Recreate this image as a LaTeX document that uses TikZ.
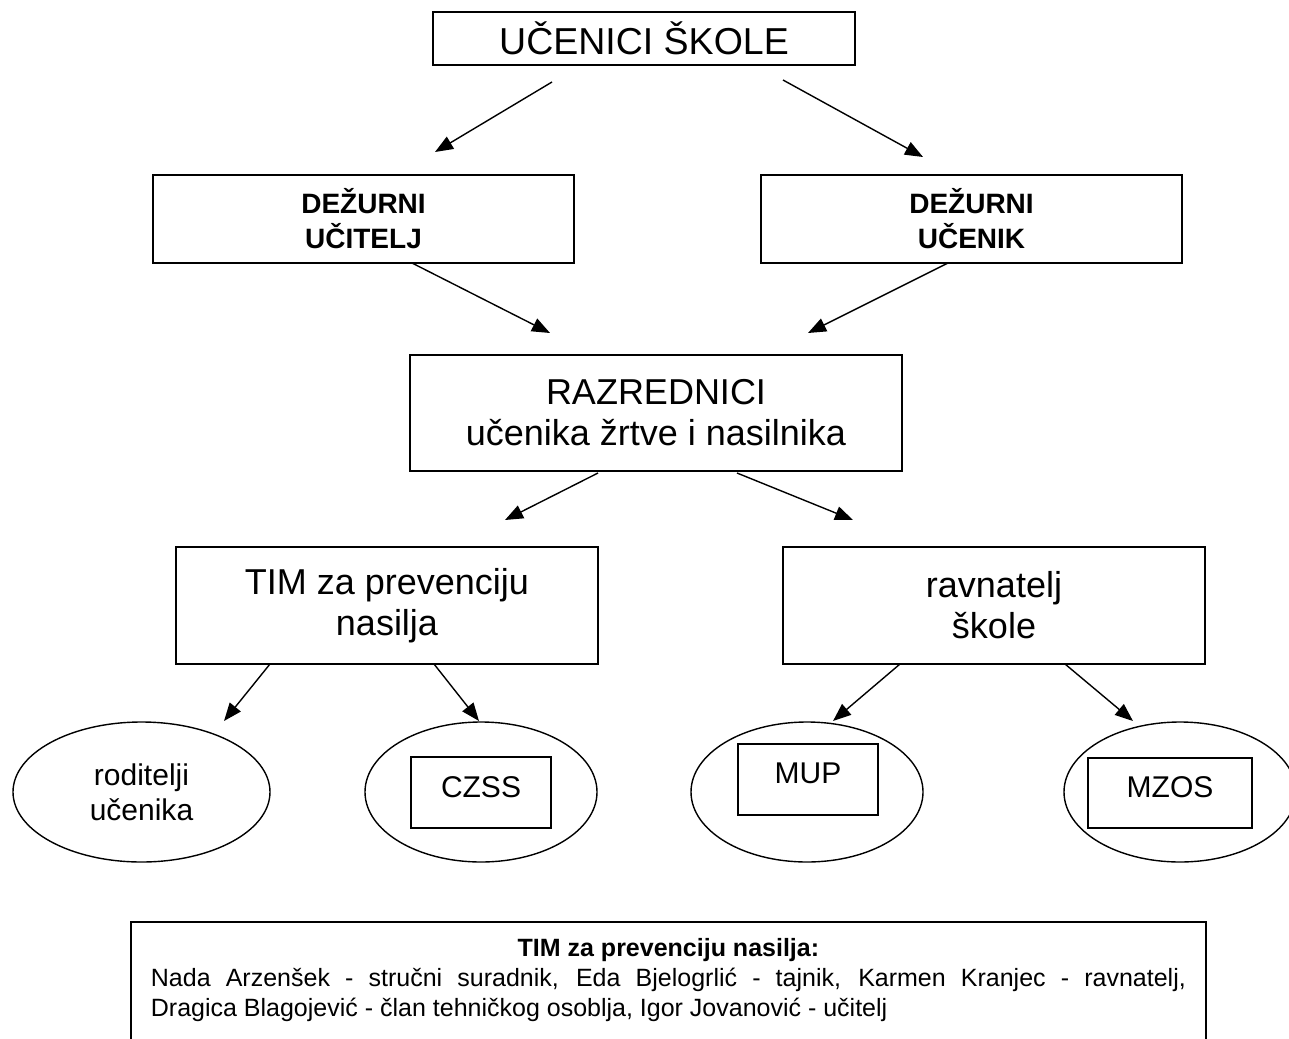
\documentclass[tikz,border=0pt]{standalone}
\usepackage{fontspec}
\setmainfont{Liberation Sans}
\usetikzlibrary{arrows.meta,shapes.geometric}
\begin{document}
\begin{tikzpicture}[x=1pt,y=-1pt,
  box/.style={draw, line width=1.8pt, inner sep=0pt, align=center},
  big/.style={font=\fontsize{36}{41}\selectfont},
  boldtxt/.style={font=\fontsize{28}{35}\selectfont\bfseries},
  mid/.style={font=\fontsize{30}{35}\selectfont},
  oval/.style={draw, ellipse, line width=1.4pt, inner sep=0pt, minimum width=232pt, minimum height=140pt},
  inbox/.style={draw, line width=1.8pt, inner sep=0pt, font=\fontsize{30}{35}\selectfont},
  arr/.style={line width=1.4pt, -{Triangle[length=18pt,width=14pt]}},
]
\useasboundingbox (0,0) rectangle (1289,1038);

% main boxes
\node[box,font=\fontsize{37.5}{41}\selectfont,minimum width=422pt,minimum height=53pt] (top) at (644,38.5) {UČENICI ŠKOLE};
\node[box,boldtxt,minimum width=421pt,minimum height=88pt] (dt) at (363.5,219) {DEŽURNI\\UČITELJ};
\node[box,boldtxt,minimum width=421pt,minimum height=88pt] (ds) at (971.5,219) {DEŽURNI\\UČENIK};
\node[box,big,minimum width=492pt,minimum height=116pt] (raz) at (656,413) {RAZREDNICI\\učenika žrtve i nasilnika};
\node[box,big,minimum width=422pt,minimum height=117pt] (tim) at (387,605.5) {TIM za prevenciju\\nasilja};
\node[box,big,minimum width=422pt,minimum height=117pt] (rav) at (994,605.5) {ravnatelj\\škole};

% ellipses
\node[oval,mid,minimum width=257pt,align=center] (rod) at (141.5,792) {roditelji\\učenika};
\node[oval] (eczss) at (481,792) {};
\node[oval] (emup) at (807,792) {};
\node[oval] (emzos) at (1180,792) {};

% inner boxes
\node[inbox,minimum width=140pt,text height=40pt,text depth=31pt] (czss) at (481,792.5) {CZSS};
\node[inbox,minimum width=140pt,text height=39pt,text depth=32pt] (mup) at (808,779.5) {MUP};
\node[inbox,minimum width=164pt,text height=39pt,text depth=31pt] (mzos) at (1170,793) {MZOS};

% team box (continues below the picture's lower edge)
\node[draw,line width=1.8pt,anchor=north west,text width=1035pt,inner xsep=20pt,inner ysep=16pt,
      align=justify,font=\fontsize{25}{30}\selectfont] (team) at (130,921)
 {\hyphenpenalty=10000 {\centering\bfseries TIM za prevenciju nasilja:\par}Nada Arzenšek - stručni suradnik, Eda Bjelogrlić - tajnik, Karmen Kranjec - ravnatelj,\linebreak Dragica Blagojević - član tehničkog osoblja, Igor Jovanović - učitelj\par\noindent\rule{0pt}{40pt}};

% arrow end points
\coordinate (a1s) at (552,82);   \coordinate (a1e) at (435,152);
\coordinate (a2s) at (783,80);   \coordinate (a2e) at (923,157);
\coordinate (a3s) at (412,263);  \coordinate (a3e) at (550,333);
\coordinate (a4s) at (948,263);  \coordinate (a4e) at (808,333);
\coordinate (a5s) at (598,473);  \coordinate (a5e) at (505,520);
\coordinate (a6s) at (737,473);  \coordinate (a6e) at (853,520);
\coordinate (a7s) at (270,664);  \coordinate (a7e) at (224,721);
\coordinate (a8s) at (434,664);  \coordinate (a8e) at (479,721);
\coordinate (a9s) at (900,664);  \coordinate (a9e) at (833,721);
\coordinate (a10s) at (1065,664); \coordinate (a10e) at (1133,721);

\draw[arr] (a1s) -- (a1e);
\draw[arr] (a2s) -- (a2e);
\draw[arr] (a3s) -- (a3e);
\draw[arr] (a4s) -- (a4e);
\draw[arr] (a5s) -- (a5e);
\draw[arr] (a6s) -- (a6e);
\draw[arr] (a7s) -- (a7e);
\draw[arr] (a8s) -- (a8e);
\draw[arr] (a9s) -- (a9e);
\draw[arr] (a10s) -- (a10e);
\end{tikzpicture}
\end{document}
